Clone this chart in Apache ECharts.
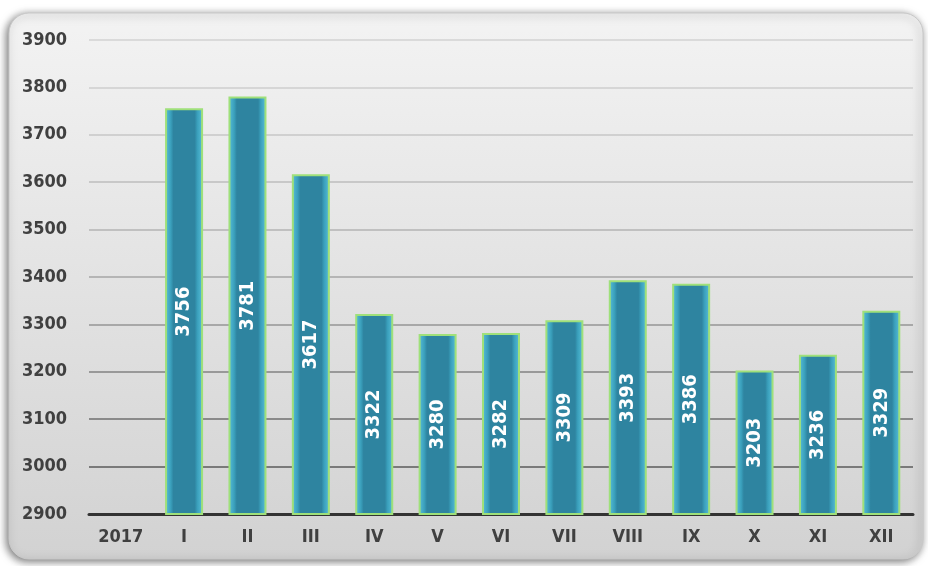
<!DOCTYPE html>
<html><head><meta charset="utf-8">
<script src="https://cdn.jsdelivr.net/npm/echarts@6/dist/echarts.min.js"></script>
<style>html,body{margin:0;padding:0;background:#fff}#c{width:928px;height:566px}</style>
</head><body><div id="c"></div>
<script>
const categories = ['2017','I','II','III','IV','V','VI','VII','VIII','IX','X','XI','XII'];
const values = [null,3756,3781,3617,3322,3280,3282,3309,3393,3386,3203,3236,3329];
const yMin = 2900, yMax = 3900, yStep = 100;
const FONT = '"DejaVu Sans Condensed","Liberation Sans Narrow",sans-serif';
const gridColors = ['#555','#7a7a7a','#8a8a8a','#999','#a8a8a8','#b5b5b5','#c0c0c0','#c8c8c8','#d0d0d0','#d6d6d6','#dadada'];
const chart = echarts.init(document.getElementById('c'));
chart.setOption({
  animation:false,
  graphic:[{type:'rect',z:-10,shape:{x:9,y:13,width:914,height:546,r:20},
    style:{fill:new echarts.graphic.LinearGradient(0,0,0,1,[{offset:0,color:'#f3f3f3'},{offset:1,color:'#d2d2d2'}]),
      stroke:'#c8c8c8',lineWidth:1,shadowBlur:8,shadowColor:'rgba(0,0,0,0.55)',shadowOffsetX:-2,shadowOffsetY:2}}],
  grid:{left:89,right:15,top:40,bottom:52},
  xAxis:{type:'category',data:categories,
    axisLine:{lineStyle:{color:'#333',width:3}},axisTick:{show:false},
    axisLabel:{color:'#404040',fontFamily:FONT,fontWeight:'bold',fontSize:18,margin:14}},
  yAxis:{type:'value',min:yMin,max:yMax,interval:yStep,
    axisLine:{show:false},axisTick:{show:false},
    axisLabel:{color:'#404040',fontFamily:FONT,fontWeight:'bold',fontSize:18,margin:22,formatter:v=>String(v)},
    splitLine:{lineStyle:{color:gridColors,width:2}}},
  series:[{type:'bar',data:values,barWidth:38,
    itemStyle:{color:new echarts.graphic.LinearGradient(0,0,1,0,[
      {offset:0,color:'#5bc0da'},{offset:0.15,color:'#3aa0bc'},{offset:0.22,color:'#2e84a0'},
      {offset:0.78,color:'#2e84a0'},{offset:0.85,color:'#3aa0bc'},{offset:1,color:'#5bc0da'}]),
      borderColor:'#9fe07a',borderWidth:2},
    label:{show:true,position:'inside',rotate:90,color:'#fff',fontFamily:FONT,fontWeight:'bold',fontSize:20}}]
});
</script></body></html>
